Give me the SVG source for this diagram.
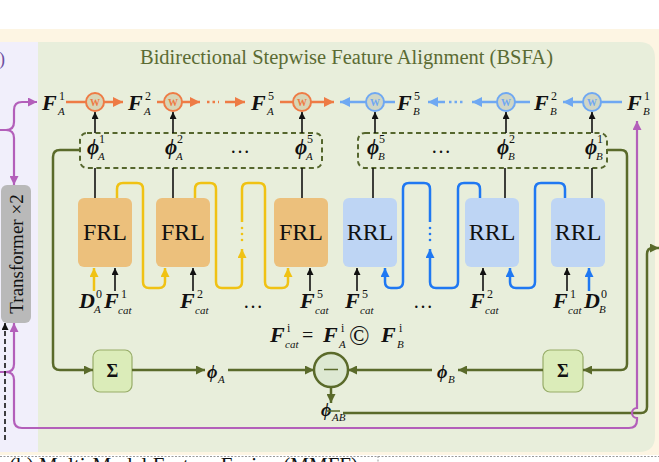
<svg xmlns="http://www.w3.org/2000/svg" width="659" height="462" viewBox="0 0 659 462">
<style>
text{font-family:"Liberation Serif","DejaVu Serif",serif;fill:#111}
.F{font-weight:bold;font-style:italic;font-size:22px}
.phi{font-weight:bold;font-style:italic;font-size:21px}
.phis{font-weight:bold;font-style:italic;font-size:18px}
.sp{font-size:12px;font-style:normal;font-weight:normal}
.sb{font-size:11px;font-style:italic;font-weight:normal}
.box{font-size:24px;text-anchor:middle}
.ell{font-size:20px}
.or{stroke:#ee7b45;stroke-width:2.5;fill:none}
.bl{stroke:#6fa8f2;stroke-width:2.5;fill:none}
.k{stroke:#111;stroke-width:1.6;fill:none}
.yl{stroke:#f0c214;stroke-width:2.5;fill:none}
.bu{stroke:#1f78f2;stroke-width:2.5;fill:none}
.ol{stroke:#5a6a2a;stroke-width:2.5;fill:none}
.pu{stroke:#b35fba;stroke-width:2.2;fill:none}
.wo{fill:#d8d5b6;stroke:#ee7b45;stroke-width:2}
.wb{fill:#cfd6c6;stroke:#6fa8f2;stroke-width:2}
.wt{font-size:10px;font-weight:bold;text-anchor:middle}
.frl{fill:#ecc07c}
.rrl{fill:#bed5f4}
.sig{fill:#dbecb9;stroke:#97ac68;stroke-width:1.2}
</style>
<defs>
<marker id="aO" viewBox="0 0 10 10" refX="10" refY="5" markerUnits="userSpaceOnUse" markerWidth="11" markerHeight="10" orient="auto"><path d="M0,0L10,5L0,10z" fill="#ee7b45"/></marker>
<marker id="aB" viewBox="0 0 10 10" refX="10" refY="5" markerUnits="userSpaceOnUse" markerWidth="11" markerHeight="10" orient="auto"><path d="M0,0L10,5L0,10z" fill="#6fa8f2"/></marker>
<marker id="aK" viewBox="0 0 10 10" refX="10" refY="5" markerUnits="userSpaceOnUse" markerWidth="8" markerHeight="7" orient="auto"><path d="M0,0L10,5L0,10z" fill="#111"/></marker>
<marker id="aY" viewBox="0 0 10 10" refX="10" refY="5" markerUnits="userSpaceOnUse" markerWidth="10" markerHeight="9" orient="auto"><path d="M0,0L10,5L0,10z" fill="#f0c214"/></marker>
<marker id="aU" viewBox="0 0 10 10" refX="10" refY="5" markerUnits="userSpaceOnUse" markerWidth="10" markerHeight="9" orient="auto"><path d="M0,0L10,5L0,10z" fill="#1f78f2"/></marker>
<marker id="aG" viewBox="0 0 10 10" refX="10" refY="5" markerUnits="userSpaceOnUse" markerWidth="11" markerHeight="9" orient="auto"><path d="M0,0L10,5L0,10z" fill="#5a6a2a"/></marker>
<marker id="aP" viewBox="0 0 10 10" refX="10" refY="5" markerUnits="userSpaceOnUse" markerWidth="10" markerHeight="9" orient="auto"><path d="M0,0L10,5L0,10z" fill="#b35fba"/></marker>
</defs>

<!-- background panels -->
<rect x="0" y="0" width="659" height="462" fill="#ffffff"/>
<rect x="0" y="29" width="659" height="426" fill="#fdf5e3"/>
<rect x="0" y="42" width="38" height="410" fill="#f1effb"/>
<path d="M38,42 H639 Q655,42 655,58 V436 Q655,452 639,452 H38 Z" fill="#e8eedb"/>
<line x1="0" y1="456.5" x2="659" y2="456.5" stroke="#9a9a9a" stroke-width="1" stroke-dasharray="2,1.5"/>
<line x1="378" y1="456" x2="378" y2="462" stroke="#9a9a9a" stroke-width="1" stroke-dasharray="2,1.5"/>
<text x="358" y="472" font-size="21" text-anchor="end">(b) Multi-Modal Feature Fusion (MMFF)</text>
<text x="-1" y="65" font-size="18" style="fill:#6d4ea0">)</text>

<text x="346.5" y="64" font-size="20.5" text-anchor="middle" style="fill:#5b6b33">Bidirectional Stepwise Feature Alignment (BSFA)</text>

<!-- Transformer -->
<g id="transformer">
<rect x="1" y="185" width="30" height="138" rx="6" fill="#b9b9b9"/>
<text transform="translate(23,254) rotate(-90)" font-size="19" text-anchor="middle">Transformer ×2</text>
</g>

<!-- nodes: weight circles -->
<g id="wA1"><circle cx="95" cy="102" r="9" class="wo"/><text x="95" y="105.5" class="wt" style="fill:#ee7b45">W</text></g>
<g id="wA2"><circle cx="173" cy="102" r="9" class="wo"/><text x="173" y="105.5" class="wt" style="fill:#ee7b45">W</text></g>
<g id="wA5"><circle cx="302" cy="102" r="9" class="wo"/><text x="302" y="105.5" class="wt" style="fill:#ee7b45">W</text></g>
<g id="wB5"><circle cx="375" cy="102" r="9" class="wb"/><text x="375" y="105.5" class="wt" style="fill:#6fa8f2">W</text></g>
<g id="wB2"><circle cx="506" cy="102" r="9" class="wb"/><text x="506" y="105.5" class="wt" style="fill:#6fa8f2">W</text></g>
<g id="wB1"><circle cx="592" cy="102" r="9" class="wb"/><text x="592" y="105.5" class="wt" style="fill:#6fa8f2">W</text></g>

<!-- top feature labels -->
<g id="FA1"><text x="42" y="110" class="F">F<tspan class="sp" x="59" y="100">1</tspan><tspan class="sb" x="58" y="115">A</tspan></text></g>
<g id="FA2"><text x="128" y="110" class="F">F<tspan class="sp" x="145" y="100">2</tspan><tspan class="sb" x="144" y="115">A</tspan></text></g>
<g id="FA5"><text x="251" y="110" class="F">F<tspan class="sp" x="268" y="100">5</tspan><tspan class="sb" x="267" y="115">A</tspan></text></g>
<g id="FB5"><text x="397" y="110" class="F">F<tspan class="sp" x="414" y="100">5</tspan><tspan class="sb" x="413" y="115">B</tspan></text></g>
<g id="FB2"><text x="534" y="110" class="F">F<tspan class="sp" x="551" y="100">2</tspan><tspan class="sb" x="550" y="115">B</tspan></text></g>
<g id="FB1"><text x="627" y="110" class="F">F<tspan class="sp" x="644" y="100">1</tspan><tspan class="sb" x="643" y="115">B</tspan></text></g>

<!-- phi groups -->
<g id="phiA">
<rect x="80" y="133" width="242" height="35" rx="7" fill="none" stroke="#55662d" stroke-width="2" stroke-dasharray="5,3.5"/>
<text x="87" y="154" class="phi">ϕ<tspan class="sp" x="99" y="143">1</tspan><tspan class="sb" x="98" y="160">A</tspan></text>
<text x="165" y="154" class="phi">ϕ<tspan class="sp" x="177" y="143">2</tspan><tspan class="sb" x="176" y="160">A</tspan></text>
<text x="230" y="153" class="ell">…</text>
<text x="295" y="154" class="phi">ϕ<tspan class="sp" x="307" y="143">5</tspan><tspan class="sb" x="306" y="160">A</tspan></text>
</g>
<g id="phiB">
<rect x="358" y="133" width="249" height="35" rx="7" fill="none" stroke="#55662d" stroke-width="2" stroke-dasharray="5,3.5"/>
<text x="367" y="154" class="phi">ϕ<tspan class="sp" x="379" y="143">5</tspan><tspan class="sb" x="378" y="160">B</tspan></text>
<text x="431" y="153" class="ell">…</text>
<text x="497" y="154" class="phi">ϕ<tspan class="sp" x="509" y="143">2</tspan><tspan class="sb" x="508" y="160">B</tspan></text>
<text x="585" y="154" class="phi">ϕ<tspan class="sp" x="597" y="143">1</tspan><tspan class="sb" x="596" y="160">B</tspan></text>
</g>

<!-- FRL / RRL boxes -->
<g id="FRL1"><rect x="78" y="198" width="54" height="69" rx="6" class="frl"/><text x="105" y="240" class="box">FRL</text></g>
<g id="FRL2"><rect x="156" y="198" width="54" height="69" rx="6" class="frl"/><text x="183" y="240" class="box">FRL</text></g>
<g id="FRL5"><rect x="274" y="198" width="54" height="69" rx="6" class="frl"/><text x="301" y="240" class="box">FRL</text></g>
<g id="RRL5"><rect x="343" y="198" width="54" height="69" rx="6" class="rrl"/><text x="370" y="240" class="box">RRL</text></g>
<g id="RRL2"><rect x="465" y="198" width="54" height="69" rx="6" class="rrl"/><text x="492" y="240" class="box">RRL</text></g>
<g id="RRL1"><rect x="551" y="198" width="54" height="69" rx="6" class="rrl"/><text x="578" y="240" class="box">RRL</text></g>

<!-- bottom input labels -->
<g id="inputsA">
<text x="79" y="308" class="F">D<tspan class="sp" x="96" y="298">0</tspan><tspan class="sb" x="94" y="313">A</tspan></text>
<text x="104" y="308" class="F">F<tspan class="sp" x="121" y="298">1</tspan><tspan class="sb" x="118" y="314">cat</tspan></text>
<text x="180" y="308" class="F">F<tspan class="sp" x="197" y="298">2</tspan><tspan class="sb" x="195" y="314">cat</tspan></text>
<text x="243" y="308" class="ell">…</text>
<text x="300" y="308" class="F">F<tspan class="sp" x="317" y="298">5</tspan><tspan class="sb" x="315" y="314">cat</tspan></text>
</g>
<g id="inputsB">
<text x="345" y="308" class="F">F<tspan class="sp" x="362" y="298">5</tspan><tspan class="sb" x="360" y="314">cat</tspan></text>
<text x="413" y="308" class="ell">…</text>
<text x="470" y="308" class="F">F<tspan class="sp" x="487" y="298">2</tspan><tspan class="sb" x="485" y="314">cat</tspan></text>
<text x="553" y="308" class="F">F<tspan class="sp" x="570" y="298">1</tspan><tspan class="sb" x="568" y="314">cat</tspan></text>
<text x="584" y="308" class="F">D<tspan class="sp" x="601" y="298">0</tspan><tspan class="sb" x="599" y="313">B</tspan></text>
</g>

<!-- formula -->
<g id="formula">
<text x="270" y="342" class="F">F<tspan class="sp" x="287" y="332">i</tspan><tspan class="sb" x="285" y="348">cat</tspan><tspan x="302" y="342" font-size="20" font-weight="normal" font-style="normal">=</tspan><tspan x="323" y="342">F</tspan><tspan class="sp" x="341" y="332">i</tspan><tspan class="sb" x="339" y="348">A</tspan><tspan x="349" y="345" font-size="27" font-weight="normal" font-style="normal">©</tspan><tspan x="381" y="342">F</tspan><tspan class="sp" x="399" y="332">i</tspan><tspan class="sb" x="397" y="348">B</tspan></text>
</g>

<!-- sigma, minus, phi labels -->
<g id="sigmaA"><rect x="93" y="350" width="39" height="42" rx="7" class="sig"/><text x="112.5" y="377" font-size="18" font-weight="bold" text-anchor="middle">Σ</text></g>
<g id="sigmaB"><rect x="543" y="350" width="40" height="42" rx="7" class="sig"/><text x="563" y="377" font-size="18" font-weight="bold" text-anchor="middle">Σ</text></g>
<g id="minus"><circle cx="331" cy="370" r="17" fill="#dde8d2" stroke="#5a6a2a" stroke-width="2.5"/><line x1="324" y1="369.5" x2="338" y2="369.5" stroke="#5a6a2a" stroke-width="1.5"/></g>
<g id="phiAlab"><text x="207" y="378" class="phis">ϕ<tspan class="sb" x="218" y="383">A</tspan></text></g>
<g id="phiBlab"><text x="437" y="378" class="phis">ϕ<tspan class="sb" x="448" y="383">B</tspan></text></g>
<g id="phiAB"><text x="321" y="416" class="phis">ϕ<tspan class="sb" x="332" y="421">AB</tspan></text><line x1="327" y1="411" x2="340" y2="411" stroke="#5a6a2a" stroke-width="1.5"/></g>

<!-- connectors -->
<g id="connectors">
<!-- orange chain -->
<line x1="66" y1="102" x2="86" y2="102" class="or"/>
<line x1="104" y1="102" x2="123" y2="102" class="or" marker-end="url(#aO)"/>
<line x1="157" y1="102" x2="164" y2="102" class="or"/>
<line x1="182" y1="102" x2="200" y2="102" class="or" marker-end="url(#aO)"/>
<line x1="207" y1="102" x2="219" y2="102" class="or" stroke-dasharray="2.5,3"/>
<line x1="225" y1="102" x2="245" y2="102" class="or" marker-end="url(#aO)"/>
<line x1="280" y1="102" x2="293" y2="102" class="or"/>
<line x1="311" y1="102" x2="334" y2="102" class="or" marker-end="url(#aO)"/>
<!-- blue chain -->
<line x1="366" y1="102" x2="340" y2="102" class="bl" marker-end="url(#aB)"/>
<line x1="384" y1="102" x2="395" y2="102" class="bl"/>
<line x1="445" y1="102" x2="428" y2="102" class="bl" marker-end="url(#aB)"/>
<line x1="449" y1="102" x2="465" y2="102" class="bl" stroke-dasharray="2.5,3"/>
<line x1="497" y1="102" x2="472" y2="102" class="bl" marker-end="url(#aB)"/>
<line x1="515" y1="102" x2="530" y2="102" class="bl"/>
<line x1="583" y1="102" x2="563" y2="102" class="bl" marker-end="url(#aB)"/>
<line x1="601" y1="102" x2="622" y2="102" class="bl"/>
<!-- up arrows phi -> W -->
<line x1="95" y1="133" x2="95" y2="112" class="k" marker-end="url(#aK)"/>
<line x1="173" y1="133" x2="173" y2="112" class="k" marker-end="url(#aK)"/>
<line x1="302" y1="133" x2="302" y2="112" class="k" marker-end="url(#aK)"/>
<line x1="375" y1="133" x2="375" y2="112" class="k" marker-end="url(#aK)"/>
<line x1="506" y1="133" x2="506" y2="112" class="k" marker-end="url(#aK)"/>
<line x1="592" y1="133" x2="592" y2="112" class="k" marker-end="url(#aK)"/>
<!-- box -> phi lines -->
<line x1="95" y1="168" x2="95" y2="198" class="k"/>
<line x1="173" y1="168" x2="173" y2="198" class="k"/>
<line x1="302" y1="168" x2="302" y2="198" class="k"/>
<line x1="373" y1="168" x2="373" y2="198" class="k"/>
<line x1="505" y1="168" x2="505" y2="198" class="k"/>
<line x1="592" y1="168" x2="592" y2="198" class="k"/>
<!-- input arrows -->
<line x1="94" y1="291" x2="94" y2="268" class="yl" marker-end="url(#aY)"/>
<line x1="115" y1="291" x2="115" y2="268" class="k" marker-end="url(#aK)"/>
<line x1="193" y1="291" x2="193" y2="268" class="k" marker-end="url(#aK)"/>
<line x1="310" y1="291" x2="310" y2="268" class="k" marker-end="url(#aK)"/>
<line x1="357" y1="291" x2="357" y2="268" class="k" marker-end="url(#aK)"/>
<line x1="483" y1="291" x2="483" y2="268" class="k" marker-end="url(#aK)"/>
<line x1="567" y1="291" x2="567" y2="268" class="k" marker-end="url(#aK)"/>
<line x1="589" y1="291" x2="589" y2="268" class="bu" marker-end="url(#aU)"/>
<!-- yellow serpentine -->
<path d="M117,198 V189 Q117,183 123,183 H137 Q143,183 143,189 V282 Q143,288 149,288 H159 Q165,288 165,282 V268" class="yl" marker-end="url(#aY)"/>
<path d="M195,198 V189 Q195,183 201,183 H210 Q216,183 216,189 V282 Q216,288 222,288 H236 Q242,288 242,282 V249" class="yl" marker-end="url(#aY)"/>
<path d="M242,222 V189 Q242,183 248,183 H259 Q265,183 265,189 V282 Q265,288 271,288 H282 Q288,288 288,282 V268" class="yl" marker-end="url(#aY)"/>
<g fill="#f0c214"><circle cx="242" cy="228" r="1.3"/><circle cx="242" cy="234" r="1.3"/><circle cx="242" cy="240" r="1.3"/></g>
<!-- blue serpentine -->
<path d="M565,198 V189 Q565,183 559,183 H541 Q535,183 535,189 V282 Q535,288 529,288 H516 Q510,288 510,282 V268" class="bu" marker-end="url(#aU)"/>
<path d="M480,198 V189 Q480,183 474,183 H464 Q458,183 458,189 V282 Q458,288 452,288 H436 Q430,288 430,282 V249" class="bu" marker-end="url(#aU)"/>
<path d="M430,222 V189 Q430,183 424,183 H409 Q403,183 403,189 V282 Q403,288 397,288 H391 Q385,288 385,282 V268" class="bu" marker-end="url(#aU)"/>
<g fill="#1f78f2"><circle cx="430" cy="228" r="1.3"/><circle cx="430" cy="234" r="1.3"/><circle cx="430" cy="240" r="1.3"/></g>
<!-- olive aggregation -->
<path d="M80,150 H60 Q53,150 53,157 V363 Q53,370 60,370 H93" class="ol" marker-end="url(#aG)"/>
<path d="M607,150 H621 Q627,150 627,156 V364 Q627,370 621,370 H583" class="ol" marker-end="url(#aG)"/>
<line x1="132" y1="370" x2="205" y2="370" class="ol" marker-end="url(#aG)"/>
<line x1="228" y1="370" x2="314" y2="370" class="ol" marker-end="url(#aG)"/>
<line x1="543" y1="370" x2="458" y2="370" class="ol" marker-end="url(#aG)"/>
<line x1="432" y1="370" x2="348" y2="370" class="ol" marker-end="url(#aG)"/>
<line x1="331" y1="387" x2="331" y2="403" class="ol" stroke-width="2" marker-end="url(#aG)"/>
<path d="M343,413 H641 Q647,413 647,407 V254 Q647,248 653,248 H659" class="ol" marker-end="url(#aG)"/>
<!-- purple -->
<path d="M0,130 H6 Q14,130 14,122 V110 Q14,102 22,102 H37" class="pu" marker-end="url(#aP)"/>
<path d="M6,130 Q14,130 14,138 V185" class="pu" marker-end="url(#aP)"/>
<path d="M0,372 H6 Q14,372 14,364 V323" class="pu" marker-end="url(#aP)"/>
<path d="M6,372 Q14,372 14,380 V420 Q14,428 22,428 H629 Q637,428 637,420 V418 A5,5 0 0 1 637,408 V121" class="pu" marker-end="url(#aP)"/>
<line x1="5" y1="440" x2="5" y2="323" stroke="#111" stroke-width="1.6" stroke-dasharray="5,3" marker-end="url(#aK)"/>
</g>
</svg>
